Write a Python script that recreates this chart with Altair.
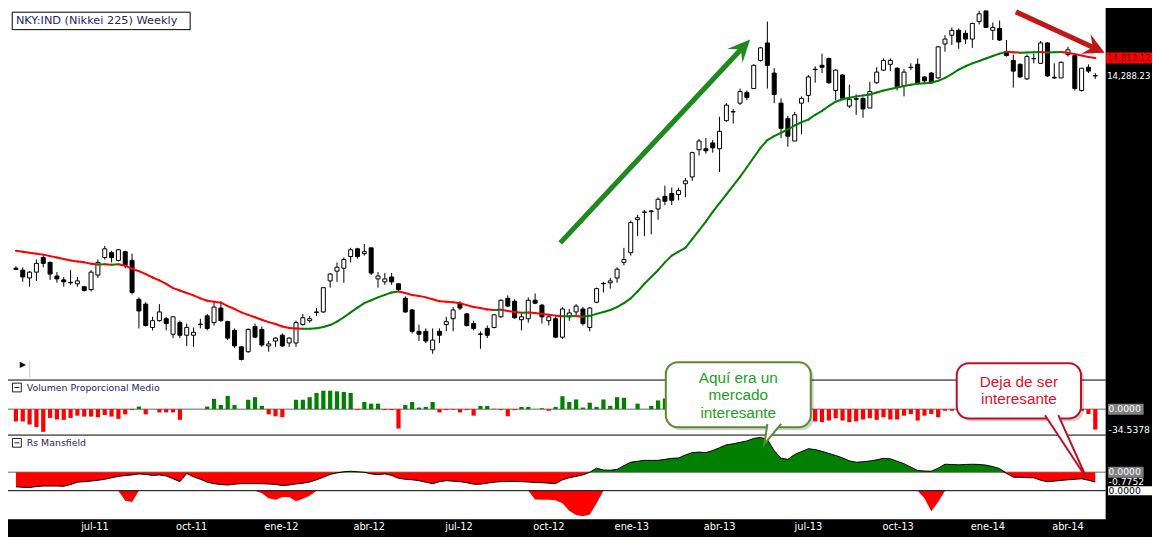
import altair as alt
import pandas as pd

W, H = 1144, 529
SX, SY = W / 1160.0, H / 545.0


def X(v):
    return v * SX


def Y(v):
    return v * SY


# ---------------- data ----------------
start = pd.Timestamp("2011-04-11")
dates = [(start + pd.Timedelta(days=7 * i)).strftime("%Y-%m-%dT00:00:00") for i in range(159)]

opens = [9711, 9673, 9523, 9635, 9922, 9825, 9560, 9486, 9440, 9412,
         9357, 9303, 9579, 9922, 10019, 9864, 10039, 9864, 9123, 9035,
         8622, 8740, 8774, 8505, 8706, 8488, 8488, 8680, 8825, 8706,
         8965, 8723, 8571, 8292, 8211, 8638, 8588, 8308, 8390, 8488,
         8357, 8357, 8672, 8740, 8885, 8895, 9467, 9654, 9711, 9941,
         10097, 9999, 10117, 9505, 9449, 9542, 9412, 9141, 8930, 8555,
         8555, 8243, 8555, 8672, 8774, 9052, 8860, 8689, 8510, 8605,
         8622, 8808, 9141, 9088, 8757, 8774, 9106, 9017, 8740, 8774,
         8455, 8808, 8895, 8947, 8622, 9070, 9420, 9431, 9523, 9825,
         10019, 10706, 10860, 10880, 10938, 11219, 11284, 11262, 11507, 11665,
         12320, 12344, 12490, 12344, 13061, 13300, 13529, 13822, 13931, 14741,
         15267, 14372, 13529, 13113, 12538, 13529, 13741, 14470, 14597, 14798,
         13876, 14316, 13450, 13660, 13660, 13397, 14094, 14456, 14626, 14512,
         14012, 14530, 14626, 14260, 14372, 14232, 15237, 15508, 15660, 15568,
         15387, 15937, 16282, 15660, 15720, 15002, 14741, 14626, 14204, 14790,
         14655, 15267, 14250, 14232, 14915, 14885, 13876, 14540, 14300]
highs = [9749, 9730, 9654, 9883, 9960, 9845, 9635, 9542, 9673, 9542,
         9370, 9673, 9883, 10156, 10058, 10097, 10058, 9999, 9159, 9070,
         8808, 9035, 8808, 8808, 8740, 8689, 8622, 8774, 8860, 9088,
         9088, 8740, 8605, 8308, 8605, 8689, 8638, 8390, 8455, 8521,
         8455, 8740, 8860, 8825, 8965, 9339, 9617, 9825, 9922, 10117,
         10117, 10196, 10117, 9635, 9617, 9617, 9412, 9177, 8947, 8672,
         8605, 8605, 8605, 8808, 8982, 9088, 8877, 8740, 8555, 8655,
         8860, 9123, 9195, 9123, 8860, 9159, 9231, 9035, 8825, 8808,
         8982, 8947, 9035, 8982, 8982, 9339, 9449, 9523, 9730, 10117,
         10685, 10810, 10917, 10917, 11197, 11462, 11417, 11417, 11642, 12272,
         12587, 12612, 12563, 13164, 13529, 13371, 13931, 13876, 14626, 15148,
         15937, 14512, 13660, 13190, 13293, 13714, 14316, 14569, 14944, 14827,
         14484, 14344, 14039, 13768, 13687, 14122, 14540, 14798, 14798, 14540,
         14484, 14655, 14798, 14288, 14400, 15178, 15508, 15751, 15720, 15660,
         15906, 16282, 16282, 15906, 15968, 15357, 14915, 14655, 14915, 14944,
         15327, 15297, 14655, 14712, 15148, 14915, 14512, 14626, 14372]
lows = [9673, 9449, 9357, 9467, 9730, 9486, 9431, 9357, 9394, 9357,
        9267, 9267, 9523, 9883, 9825, 9845, 9711, 9213, 8605, 8638,
        8571, 8723, 8571, 8439, 8439, 8308, 8292, 8605, 8571, 8655,
        8723, 8406, 8276, 8068, 8195, 8439, 8292, 8211, 8292, 8292,
        8292, 8292, 8655, 8706, 8825, 8877, 9339, 9449, 9431, 9825,
        9902, 9960, 9579, 9339, 9394, 9394, 9267, 8877, 8521, 8390,
        8357, 8179, 8357, 8555, 8555, 8930, 8638, 8571, 8260, 8439,
        8605, 8791, 8982, 8774, 8571, 8706, 9035, 8689, 8655, 8439,
        8422, 8740, 8808, 8655, 8555, 9052, 9249, 9321, 9431, 9768,
        9960, 10356, 10356, 10397, 10705, 11023, 11023, 11131, 11197, 11574,
        12176, 12224, 12248, 11779, 13035, 12985, 13476, 13608, 13931, 14712,
        13931, 13529, 12612, 12392, 12538, 12710, 13555, 14094, 14372, 14067,
        13608, 13608, 13397, 13216, 13138, 13397, 14067, 14428, 14428, 13876,
        13714, 14456, 14094, 14067, 14067, 14204, 15002, 15208, 15089, 15237,
        15118, 15844, 15751, 15357, 15327, 14856, 13958, 14232, 14176, 14655,
        14655, 14260, 14204, 14232, 14856, 13876, 13849, 14372, 14204]
closes = [9690, 9542, 9635, 9806, 9806, 9598, 9505, 9449, 9431, 9467,
          9285, 9635, 9825, 10097, 9922, 10078, 9768, 9249, 8912, 8655,
          8740, 8895, 8689, 8808, 8488, 8622, 8538, 8672, 8605, 8982,
          8740, 8439, 8308, 8084, 8588, 8455, 8324, 8341, 8439, 8308,
          8439, 8706, 8791, 8774, 8895, 9339, 9598, 9730, 9883, 10078,
          9941, 10039, 9617, 9560, 9505, 9449, 9303, 8895, 8555, 8505,
          8390, 8406, 8488, 8723, 8930, 8965, 8655, 8605, 8505, 8488,
          8843, 9106, 9000, 8791, 8808, 9106, 9052, 8808, 8808, 8455,
          8947, 8877, 9000, 8689, 8965, 9321, 9412, 9467, 9692, 9883,
          10643, 10747, 10874, 10896, 11153, 11110, 11131, 11350, 11574, 12248,
          12538, 12296, 12368, 12785, 13476, 13293, 13849, 13687, 14597, 15118,
          14597, 13768, 12860, 12660, 13216, 13660, 14260, 14484, 14540, 14094,
          14456, 13660, 13635, 13635, 13371, 13849, 14400, 14741, 14741, 13985,
          14400, 14540, 14094, 14149, 14094, 15148, 15387, 15660, 15297, 15387,
          15875, 16188, 15751, 15751, 15357, 14885, 14428, 14260, 14856, 14800,
          15267, 14288, 14232, 14684, 15060, 13931, 14512, 14428, 14288.23]

# 30-week moving average as drawn (red falling / green rising)
ma = [10058, 10038, 10019, 9999, 9980, 9950, 9922, 9893, 9864, 9845,
      9826, 9797, 9783, 9787, 9781, 9787, 9758, 9702, 9654, 9598,
      9532, 9477, 9412, 9330, 9285, 9240, 9195, 9141, 9097, 9079,
      9061, 9000, 8947, 8886, 8843, 8800, 8757, 8715, 8681, 8639,
      8613, 8602, 8598, 8600, 8608, 8630, 8664, 8723, 8800, 8886,
      8973, 9053, 9106, 9159, 9204, 9249, 9267, 9240, 9204, 9186,
      9159, 9123, 9088, 9079, 9070, 9053, 9017, 8982, 8965, 8938,
      8930, 8934, 8912, 8895, 8881, 8884, 8874, 8860, 8843, 8829,
      8817, 8820, 8824, 8808, 8825, 8860, 8895, 8930, 8982, 9053,
      9141, 9267, 9412, 9542, 9673, 9826, 9960, 10038, 10117, 10296,
      10478, 10664, 10874, 11066, 11262, 11462, 11665, 11894, 12129, 12368,
      12563, 12661, 12748, 12835, 12935, 13023, 13087, 13216, 13319, 13450,
      13568, 13634, 13674, 13714, 13741, 13768, 13822, 13876, 13917, 13958,
      13999, 14039, 14067, 14081, 14094, 14149, 14232, 14344, 14470, 14569,
      14655, 14726, 14798, 14871, 14944, 15002, 14987, 14973, 14979, 14985,
      14990, 14979, 14985, 14990, 14973, 14929, 14885, 14842, 14813.12]

# Volumen Proporcional Medio
vol = [-20.8, -20.8, -25.8, -30.2, -38.4, -14.8, -17.5, -18.1, -14.8, -11.0,
       -12.6, -12.6, -13.7, -9.9, -12.6, -16.4, -8.8, -1.6, 4.4, -8.8,
       0, -5.5, -5.5, -5.5, -18.1, 0, 0, 0, 4.4, 17.5,
       7.1, 22.5, 7.1, 0, 15.9, 20.3, 5.5, -8.8, -12.1, -13.7,
       0, 15.9, 15.9, 20.3, 27.4, 31.3, 31.3, 30.2, 29.1, 27.4,
       -1.6, 12.1, 9.3, 9.3, -1.6, -1.6, -32.9, 7.1, 12.1, 2.7,
       3.8, 12.1, -5.5, -1.6, -1.0, -5.5, -1.6, -11.0, 5.5, 5.5,
       0.5, -1.6, -12.1, -1.6, 3.8, 3.8, 0, 1.6, -2.7, 3.8,
       21.9, 12.1, 16.4, 2.7, 11.0, 3.8, 16.4, 5.5, 20.3, 19.2,
       0, 9.3, 0, 5.5, 14.8, 18.1, 12, 20, 15, 25,
       18, 10, 8, 22, 15, 6, 12, 9, 24, 20,
       30, -5, -12, -15, -10, -18, -20, -20.8, -21.9, -19.2,
       -15.4, -19.2, -21.9, -20.8, -17.5, -15.4, -18.1, -13.7, -17.5, -17.5,
       -11.0, -8.2, -19.2, -11.0, -8.2, -13.7, -2.7, -2.7, -1.6, -2,
       -1.5, -3, -1, -2.5, -4, -2, -3, -1.5, -2, -3,
       -1, -2, -2.5, -3, -1.5, -2, -2.7, -8.2, -34.5378]

# Rs Mansfield
rs = [-1.16, -1.20, -1.22, -1.14, -1.10, -1.10, -1.10, -1.12, -0.98, -0.79,
      -0.75, -0.70, -0.64, -0.56, -0.44, -0.33, -0.26, -0.21, -0.13, -0.17,
      -0.25, -0.21, -0.29, -0.52, -0.75, -0.10, -0.36, -0.56, -0.79, -0.91,
      -0.98, -1.02, -0.95, -0.91, -0.91, -0.91, -0.91, -0.94, -0.97, -1.06,
      -1.02, -0.93, -0.87, -0.78, -0.60, -0.40, -0.17, -0.05, 0.04, 0.08,
      0.04, 0.00, -0.13, -0.19, -0.13, -0.25, -0.48, -0.56, -0.60, -0.67,
      -0.79, -0.91, -0.75, -0.67, -0.71, -0.75, -0.83, -0.95, -0.95, -0.87,
      -0.79, -0.75, -0.74, -0.73, -0.75, -0.78, -0.81, -0.83, -0.87, -0.91,
      -0.60, -0.44, -0.33, -0.21, 0.00, 0.33, 0.18, 0.16, 0.23, 0.53,
      0.80, 0.88, 0.95, 0.95, 0.95, 1.03, 1.11, 1.14, 1.38, 1.57,
      1.61, 1.57, 1.73, 1.96, 2.19, 2.27, 2.39, 2.50, 2.70, 2.78,
      2.62, 1.73, 1.11, 1.03, 1.42, 1.65, 1.88, 1.81, 1.67, 1.50,
      1.34, 1.15, 0.91, 0.80, 0.84, 0.90, 0.99, 1.11, 1.07, 0.88,
      0.68, 0.41, 0.14, 0.10, 0.08, 0.33, 0.64, 0.62, 0.59, 0.62,
      0.64, 0.62, 0.57, 0.45, 0.29, -0.09, -0.39, -0.40, -0.43, -0.44,
      -0.64, -0.75, -0.71, -0.65, -0.60, -0.56, -0.52, -0.64, -0.7752]

# second sub-indicator (red hanging below its zero line)
rs2 = [0] * 16 + [-0.8, -0.9] + [0] * 18 + [-0.2, -0.6, -0.73, -0.5, -0.5, -0.85, -0.65, -0.4] \
      + [0] * 32 + [-0.7, -0.73, -0.73, -0.76, -1.0, -1.6, -1.95, -2.05, -1.9, -1.0] \
      + [0] * 47 + [-0.6, -1.65, -0.9] + [0] * 23

month_dates = ["2011-07-01", "2011-10-08", "2012-01-08", "2012-04-07", "2012-07-08", "2012-10-08",
               "2013-01-01", "2013-04-01", "2013-07-01", "2013-10-01", "2014-01-01", "2014-03-24"]
month_labels = ["jul-11", "oct-11", "ene-12", "abr-12", "jul-12", "oct-12",
                "ene-13", "abr-13", "jul-13", "oct-13", "ene-14", "abr-14"]

GREEN = "#007f00"
RED = "#ff0000"

# ---------------- tables ----------------
df = pd.DataFrame({"date": dates, "open": opens, "high": highs, "low": lows, "close": closes,
                   "ma": ma, "vol": vol, "rs": rs, "rs2": rs2})
df["bodyfill"] = ["white" if c >= o else "black" for o, c in zip(opens, closes)]
df["vcol"] = [GREEN if v >= 0 else RED for v in vol]
df["rs_pos"] = [max(v, 0) for v in rs]
df["rs_neg"] = [min(v, 0) for v in rs]

seg = pd.DataFrame({"d1": dates[:-1], "d2": dates[1:], "m1": ma[:-1], "m2": ma[1:],
                    "c": [GREEN if b >= a else RED for a, b in zip(ma[:-1], ma[1:])]})

months = pd.DataFrame({"date": [d + "T00:00:00" for d in month_dates], "t": month_labels})

ONE = pd.DataFrame({"k": [0]})

# ---------------- scales ----------------
xscale = alt.Scale(domain=[alt.DateTime(year=2011, month=4, date=8),
                           alt.DateTime(year=2014, month=6, date=13)], range=[0, W])
pscale = alt.Scale(type="log", domain=[7762, 16378], range=[Y(383), Y(0)], nice=False, zero=False)
vscale = alt.Scale(domain=[-43.9, 49.8], range=[Y(440), Y(383)], nice=False, zero=False)
rscale = alt.Scale(domain=[-1.473, 2.969], range=[Y(497.3), Y(440)], nice=False, zero=False)
r2scale = alt.Scale(domain=[-2.302, 0], range=[Y(527), Y(497.3)], nice=False, zero=False)


def xd(field="date"):
    return alt.X(field + ":T", scale=xscale, axis=None)


def yq(field, sc):
    return alt.Y(field + ":Q", scale=sc, axis=None)


def rect(x1, y1, x2, y2, **kw):
    return alt.Chart(ONE).mark_rect(**kw).encode(
        x=alt.value(X(x1)), x2=alt.value(X(x2)), y=alt.value(Y(y1)), y2=alt.value(Y(y2)))


def hline(x1, x2, y, color, width=1):
    return alt.Chart(ONE).mark_rule(color=color, strokeWidth=width).encode(
        x=alt.value(X(x1)), x2=alt.value(X(x2)), y=alt.value(Y(y)))


def vline(x, y1, y2, color, width=1):
    return alt.Chart(ONE).mark_rule(color=color, strokeWidth=width).encode(
        x=alt.value(X(x)), y=alt.value(Y(y1)), y2=alt.value(Y(y2)))


def txt(x, y, s, size, color, align="left", font="DejaVu Sans"):
    return alt.Chart(ONE).mark_text(align=align, baseline="middle", font=font, fontSize=size,
                                    color=color).encode(
        x=alt.value(X(x)), y=alt.value(Y(y)), text=alt.value(s))


def shape(points, fill, stroke=None, sw=0, closed=True, opacity=1.0):
    pts = [(X(a), Y(b)) for a, b in points]
    cx = sum(p[0] for p in pts) / len(pts)
    cy = sum(p[1] for p in pts) / len(pts)
    r = 100.0
    path = "M" + " L".join("%.4f,%.4f" % ((a - cx) / r, (b - cy) / r) for a, b in pts)
    if closed:
        path += " Z"
    kw = dict(shape=path, size=(2 * r) ** 2, filled=True, fill=fill, opacity=opacity, strokeWidth=sw)
    if stroke:
        kw["stroke"] = stroke
    return alt.Chart(ONE).mark_point(**kw).encode(x=alt.value(cx), y=alt.value(cy))


def arrow(tail, tip, hw, head_len, head_hw, join_len):
    dx, dy = tip[0] - tail[0], tip[1] - tail[1]
    ln = (dx * dx + dy * dy) ** 0.5
    ux, uy = dx / ln, dy / ln
    nx, ny = -uy, ux
    S = (tip[0] - ux * join_len, tip[1] - uy * join_len)
    B = (tip[0] - ux * head_len, tip[1] - uy * head_len)
    return [(tail[0] + nx * hw, tail[1] + ny * hw), (S[0] + nx * hw, S[1] + ny * hw),
            (B[0] + nx * head_hw, B[1] + ny * head_hw), tip,
            (B[0] - nx * head_hw, B[1] - ny * head_hw), (S[0] - nx * hw, S[1] - ny * hw),
            (tail[0] - nx * hw, tail[1] - ny * hw)]


layers = []

# panel lines
layers += [hline(0, 1113, 413.3, "#9a9a9a", 1.5), hline(0, 1113, 478.3, "#9a9a9a", 1.5)]

# price panel
layers.append(alt.Chart(df).mark_rule(color="black", strokeWidth=1).encode(
    x=xd(), y=yq("low", pscale), y2="high:Q"))
layers.append(alt.Chart(df).mark_bar(size=4, stroke="black", strokeWidth=1).encode(
    x=xd(), y=yq("open", pscale), y2="close:Q", fill=alt.Fill("bodyfill:N", scale=None)))
layers.append(alt.Chart(seg).mark_rule(strokeWidth=2, strokeCap="round").encode(
    x=xd("d1"), x2="d2:T", y=yq("m1", pscale), y2="m2:Q", color=alt.Color("c:N", scale=None)))

# volume panel
layers.append(alt.Chart(df).mark_bar(size=4.2).encode(
    x=xd(), y=yq("vol", vscale), y2=alt.datum(0), color=alt.Color("vcol:N", scale=None)))

# Rs Mansfield panel
layers.append(alt.Chart(df).mark_area(color=GREEN).encode(
    x=xd(), y=yq("rs_pos", rscale), y2=alt.datum(0)))
layers.append(alt.Chart(df).mark_area(color=RED).encode(
    x=xd(), y=yq("rs_neg", rscale), y2=alt.datum(0)))
layers.append(alt.Chart(df).mark_line(color="black", strokeWidth=1).encode(
    x=xd(), y=yq("rs", rscale)))
layers.append(alt.Chart(df).mark_area(color=RED).encode(
    x=xd(), y=yq("rs2", r2scale), y2=alt.datum(0)))

# separators
layers += [hline(0, 1113, 383.3, "black"), hline(0, 1113, 440, "black"), hline(0, 1113, 497.3, "black")]

# titles
TCOL = "#25256a"
layers += [rect(4.3, 4.3, 184.7, 22.3, fill="white", stroke="black", strokeWidth=1),
           txt(8, 13.5, "NKY:IND (Nikkei 225) Weekly", 11.3, TCOL)]
for yy, name in [(391, "Volumen Proporcional Medio"), (448, "Rs Mansfield")]:
    layers += [rect(4.5, yy - 4.5, 13.5, yy + 4.5, fill="white", stroke="#222222", strokeWidth=1),
               hline(6.5, 11.5, yy, "#222222"),
               txt(19, yy, name, 9.4, TCOL)]
layers += [txt(12, 367.5, "\u25b6", 8, "black"), vline(22, 363, 381, "#cccccc")]

# right black panel and bottom date bar
layers += [rect(1113, 0, 1160, 545, fill="black"), rect(0, 526.7, 1160, 545, fill="black")]
layers.append(alt.Chart(months).mark_text(align="center", baseline="middle", font="DejaVu Sans",
                                          fontSize=9.8, color="white").encode(
    x=xd(), y=alt.value(Y(535)), text="t:N"))

# right-hand value labels
plab = pd.DataFrame({"v": [ma[-1], closes[-1]],
                     "t": ["{:,.2f}".format(ma[-1]), "{:,.2f}".format(closes[-1])],
                     "c": ["#6a0000", "white"]})
layers.append(alt.Chart(plab.iloc[:1]).mark_rect(color=RED, yOffset=-5.5, y2Offset=5.5).encode(
    x=alt.value(X(1113.5)), x2=alt.value(W), y=yq("v", pscale), y2="v:Q"))
layers.append(alt.Chart(plab).mark_text(align="left", baseline="middle", font="DejaVu Sans",
                                        fontSize=8.5).encode(
    x=alt.value(X(1114.5)), y=yq("v", pscale), text="t:N", color=alt.Color("c:N", scale=None)))

vlab = pd.DataFrame({"v": [0, vol[-1]], "t": ["{:.4f}".format(0), "{:.4f}".format(vol[-1])]})
layers.append(alt.Chart(vlab.iloc[:1]).mark_rect(color="#808080", yOffset=-5.5, y2Offset=5.5).encode(
    x=alt.value(X(1115.5)), x2=alt.value(X(1151.5)), y=yq("v", vscale), y2="v:Q"))
layers.append(alt.Chart(vlab).mark_text(align="left", baseline="middle", font="DejaVu Sans",
                                        fontSize=9.2, color="white").encode(
    x=alt.value(X(1116)), y=yq("v", vscale), text="t:N"))

rlab = pd.DataFrame({"v": [0, rs[-1]], "t": ["{:.4f}".format(0), "{:.4f}".format(rs[-1])]})
layers.append(alt.Chart(rlab.iloc[:1]).mark_rect(color="#808080", yOffset=-5.5, y2Offset=5.5).encode(
    x=alt.value(X(1115.5)), x2=alt.value(X(1151.5)), y=yq("v", rscale), y2="v:Q"))
layers.append(alt.Chart(rlab).mark_text(align="left", baseline="middle", font="DejaVu Sans",
                                        fontSize=9.2, color="white").encode(
    x=alt.value(X(1116)), y=yq("v", rscale), text="t:N"))
r2lab = pd.DataFrame({"v": [0], "t": ["{:.4f}".format(0)]})
layers.append(alt.Chart(r2lab).mark_rect(color="white", yOffset=-4.5, y2Offset=4.5).encode(
    x=alt.value(X(1115.5)), x2=alt.value(W), y=yq("v", r2scale), y2="v:Q"))
layers.append(alt.Chart(r2lab).mark_text(align="left", baseline="middle", font="DejaVu Sans",
                                         fontSize=9.2, color="black").encode(
    x=alt.value(X(1116)), y=yq("v", r2scale), text="t:N"))

# callout 1 (green)
G_BORDER, G_TEXT = "#5b8a30", "#23a023"
layers += [rect(670, 368, 817, 435, fill="black", opacity=0.18, cornerRadius=12),
           rect(667, 365, 814, 432, fill="white", stroke=G_BORDER, strokeWidth=2, cornerRadius=12),
           shape([(770, 428.5), (767, 449), (784, 428.5)], "white", G_BORDER, 2, closed=False)]
for yy, s in [(381, "Aqu\u00ed era un"), (399, "mercado"), (417, "interesante")]:
    layers.append(txt(740.5, yy, s, 15.3, G_TEXT, align="center", font="Liberation Sans"))

# callout 2 (red)
R_BORDER, R_TEXT = "#c01028", "#e4102c"
layers += [rect(965, 369, 1091, 426, fill="black", opacity=0.18, cornerRadius=12),
           rect(962, 366, 1088, 423, fill="white", stroke=R_BORDER, strokeWidth=2, cornerRadius=12),
           shape([(1051.5, 419.5), (1094, 485), (1065, 419.5)], "white", R_BORDER, 2, closed=False)]
for yy, s in [(385, "Deja de ser"), (403.3, "interesante")]:
    layers.append(txt(1025, yy, s, 15.3, R_TEXT, align="center", font="Liberation Sans"))

# arrows
layers.append(shape(arrow((560, 242), (752.5, 32.5), 2.6, 23, 10.5, 16), "#1e8a1e"))
layers.append(shape(arrow((1022, 4), (1112, 46), 2.6, 21, 11, 15), "#c01818"))

chart = alt.layer(*layers).resolve_scale(y="independent").properties(
    width=W, height=H, padding=0, background="white",
    autosize=alt.AutoSizeParams(type="none")
).configure_view(stroke=None)

chart.save("out.html", embed_options={"renderer": "svg", "actions": False})
